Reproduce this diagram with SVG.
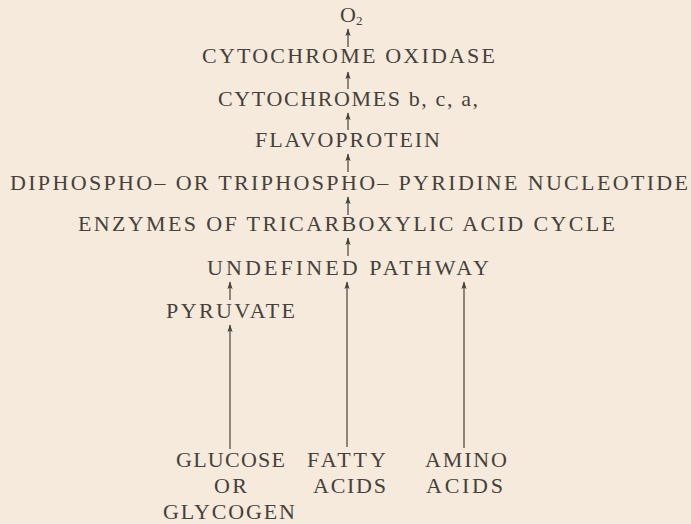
<svg xmlns="http://www.w3.org/2000/svg" width="691" height="524" viewBox="0 0 691 524">
<style>
.t{font-family:"Liberation Serif","Times New Roman",serif;font-size:22px;fill:#45413b;}
.c{stroke:#45413b;stroke-width:1.2;fill:none;}
</style>
<defs>
<marker id="ah" markerUnits="userSpaceOnUse" markerWidth="10" markerHeight="8" refX="0" refY="0" orient="auto" viewBox="-8 -4 10 8" overflow="visible">
<path d="M0.5,0 L-7,-2.6 L-5.5,0 L-7,2.6 Z" fill="#45413b"/>
</marker>
</defs>
<rect width="691" height="524" fill="#f5eadb"/>
<g id="connectors">
<line class="c" x1="348" y1="47" x2="348" y2="29" marker-end="url(#ah)"/>
<line class="c" x1="348" y1="89" x2="348" y2="72" marker-end="url(#ah)"/>
<line class="c" x1="348" y1="130" x2="348" y2="113" marker-end="url(#ah)"/>
<line class="c" x1="348" y1="172" x2="348" y2="154" marker-end="url(#ah)"/>
<line class="c" x1="348" y1="215" x2="348" y2="197" marker-end="url(#ah)"/>
<line class="c" x1="348" y1="256" x2="348" y2="238" marker-end="url(#ah)"/>
<line class="c" x1="230" y1="300" x2="230" y2="282" marker-end="url(#ah)"/>
<line class="c" x1="230" y1="449" x2="230" y2="325" marker-end="url(#ah)"/>
<line class="c" x1="347" y1="447" x2="347" y2="282" marker-end="url(#ah)"/>
<line class="c" x1="464" y1="448" x2="464" y2="282" marker-end="url(#ah)"/>
</g>
<g id="o2"><text class="t" x="340" y="22">O<tspan font-size="13" dy="3">2</tspan></text></g>
<g id="cytochrome-oxidase"><text class="t" x="202" y="63" textLength="293" lengthAdjust="spacing">CYTOCHROME OXIDASE</text></g>
<g id="cytochromes"><text class="t" x="218" y="106" textLength="260" lengthAdjust="spacing">CYTOCHROMES b, c, a,</text></g>
<g id="flavoprotein"><text class="t" x="255" y="147" textLength="185" lengthAdjust="spacing">FLAVOPROTEIN</text></g>
<g id="pyridine-nucleotide"><text class="t" x="10" y="190" textLength="678" lengthAdjust="spacing">DIPHOSPHO– OR TRIPHOSPHO– PYRIDINE NUCLEOTIDE</text></g>
<g id="tca-enzymes"><text class="t" x="78" y="231" textLength="537" lengthAdjust="spacing">ENZYMES OF TRICARBOXYLIC ACID CYCLE</text></g>
<g id="undefined-pathway"><text class="t" x="207" y="275" textLength="282" lengthAdjust="spacing">UNDEFINED PATHWAY</text></g>
<g id="pyruvate"><text class="t" x="166" y="318" textLength="129" lengthAdjust="spacing">PYRUVATE</text></g>
<g id="glucose">
<text class="t" x="176" y="467" textLength="109" lengthAdjust="spacing">GLUCOSE</text>
<text class="t" x="214" y="493" textLength="33" lengthAdjust="spacing">OR</text>
<text class="t" x="163" y="519" textLength="132" lengthAdjust="spacing">GLYCOGEN</text>
</g>
<g id="fatty-acids">
<text class="t" x="307" y="467" textLength="79" lengthAdjust="spacing">FATTY</text>
<text class="t" x="313" y="493" textLength="73" lengthAdjust="spacing">ACIDS</text>
</g>
<g id="amino-acids">
<text class="t" x="425" y="467" textLength="82" lengthAdjust="spacing">AMINO</text>
<text class="t" x="426" y="493" textLength="77" lengthAdjust="spacing">ACIDS</text>
</g>
</svg>
